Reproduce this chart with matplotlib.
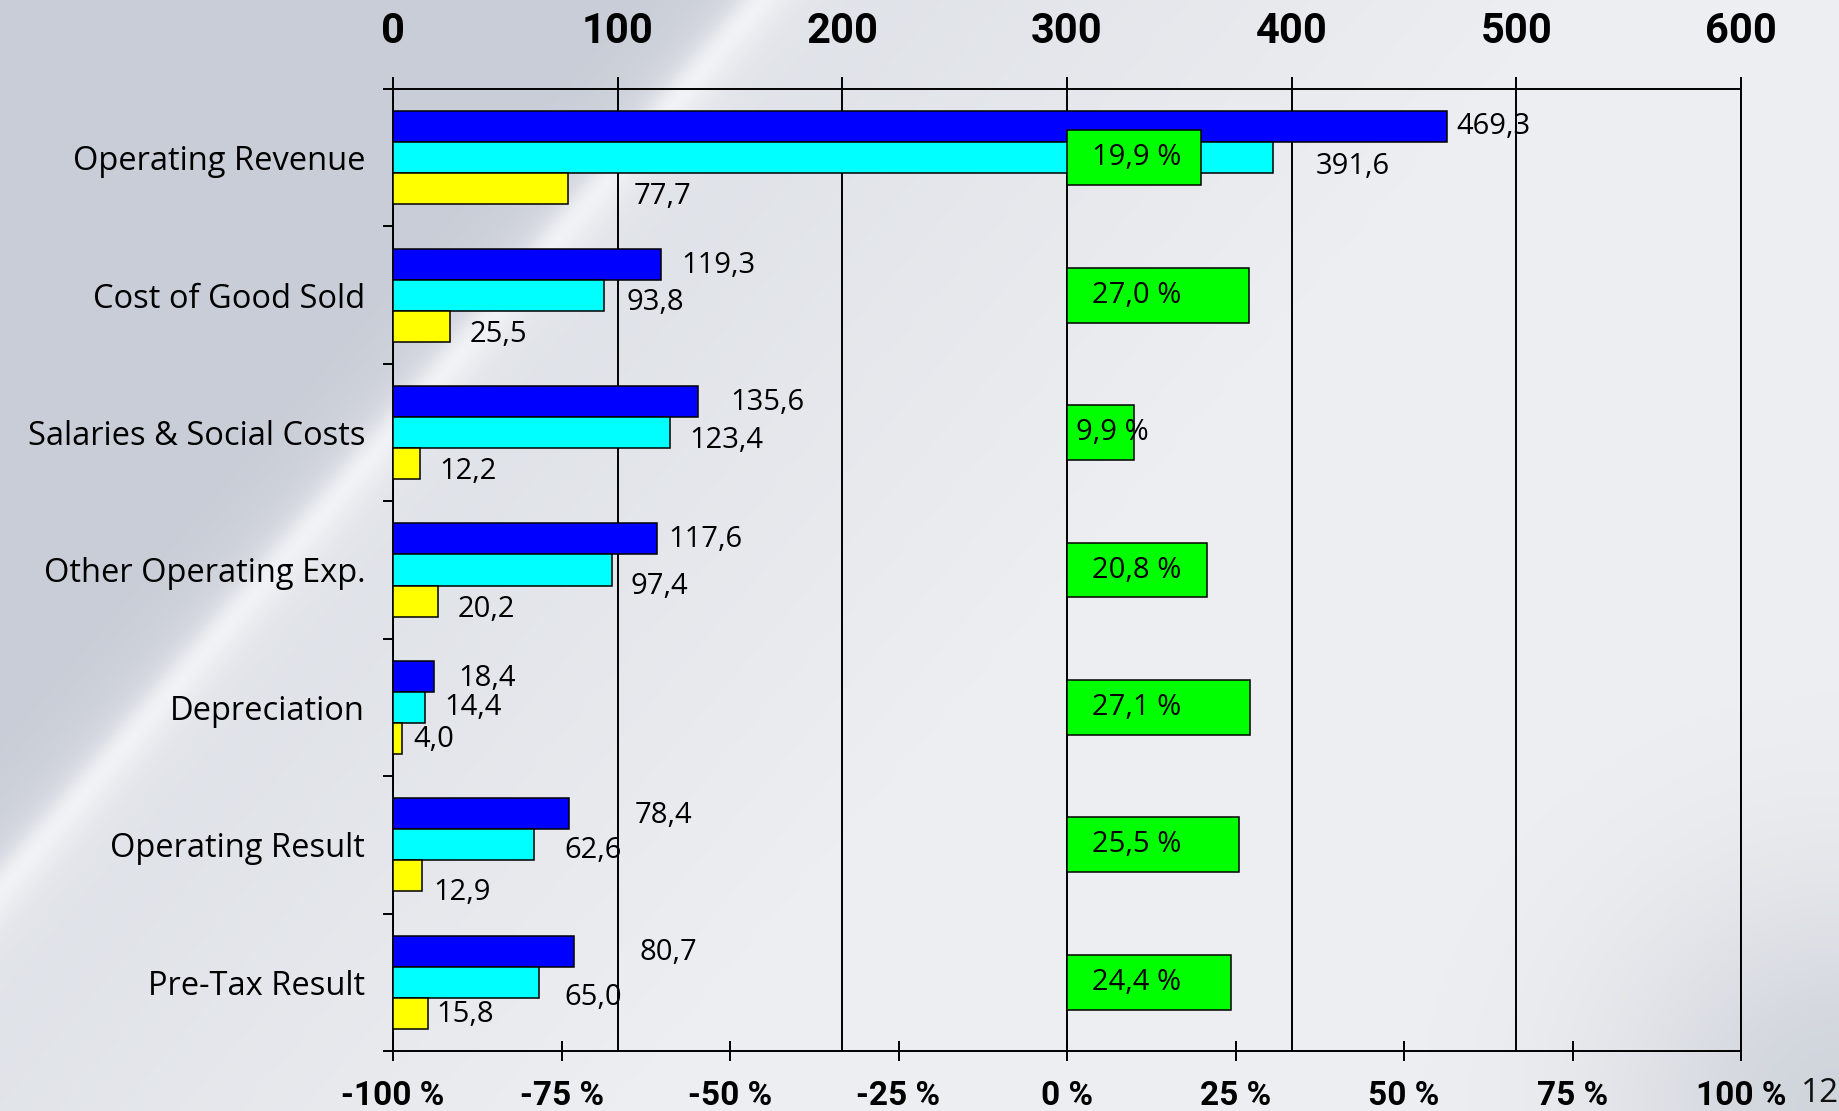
import numpy as np
import matplotlib
matplotlib.use("Agg")
import matplotlib.pyplot as plt
from matplotlib import font_manager
from matplotlib.ticker import FixedLocator

# P&L lines, current year vs previous year, absolute change and % change
categories = ["Operating Revenue", "Cost of Good Sold", "Salaries & Social Costs",
              "Other Operating Exp.", "Depreciation", "Operating Result", "Pre-Tax Result"]
current = [469.3, 119.3, 135.6, 117.6, 18.4, 78.4, 80.7]
previous = [391.6, 93.8, 123.4, 97.4, 14.4, 62.6, 65.0]
change = [77.7, 25.5, 12.2, 20.2, 4.0, 12.9, 15.8]
change_pct = [19.9, 27.0, 9.9, 20.8, 27.1, 25.5, 24.4]

value_ticks = [0, 100, 200, 300, 400, 500, 600]
pct_ticks = [-100, -75, -50, -25, 0, 25, 50, 75, 100]

# label nudges in pixels (dx right, dy down), one row per series
nudge_current = [(9, 0), (20, 1), (33, 1), (11, 1), (24, 2), (65, 2), (65, 1)]
nudge_previous = [(43, 9), (23, 7), (19, 8), (19, 16), (19, 0), (31, 6), (25, 15)]
nudge_change = [(66, 8), (19, 8), (19, 8), (19, 8), (11, 1), (11, 17), (8, 1)]
pct_dx = [25, 25, 9, 25, 25, 25, 25]


def pick_font(*names):
    for n in names:
        try:
            font_manager.findfont(n, fallback_to_default=False)
            return n
        except ValueError:
            pass
    return "DejaVu Sans"


TICK_FONT = pick_font("Liberation Sans Narrow", "Roboto", "DejaVu Sans")
TEXT_FONT = pick_font("Open Sans", "Noto Sans", "DejaVu Sans")
PAGE_FONT = pick_font("Open Sans", "DejaVu Sans")

W, H = 1839, 1111
fig = plt.figure(figsize=(W / 100, H / 100), dpi=100)

# backdrop: grey-blue slide with a light diagonal streak
bg = fig.add_axes([0, 0, 1, 1], zorder=-1)
yy, xx = np.mgrid[0:H, 0:W].astype(float)
perp = (xx - (762 - 0.855 * yy)) / 1.316
left_col = np.array([201, 205, 215]) / 255
near_col = np.array([222, 225, 231]) / 255
far_col = np.array([238, 239, 242]) / 255
t = np.clip(perp / 650, 0, 1)[..., None]
right = near_col * (1 - t) + far_col * t
side = np.clip(perp / 40 + 0.5, 0, 1)[..., None]
img = left_col * (1 - side) + right * side
band = np.clip(0.6 * np.exp(-(perp / 20) ** 2) + 0.25 * np.exp(-(perp / 60) ** 2), 0, 1)[..., None]
img = img + (np.array([246, 247, 249]) / 255 - img) * band
corner = (0.75 * np.exp(-(np.hypot(xx - W, yy - H) / 230) ** 2))[..., None]
img = img + (np.array([198, 203, 212]) / 255 - img) * corner
bg.imshow(img, aspect="auto", extent=(0, W, H, 0))
bg.set_axis_off()

ax = fig.add_axes([393 / W, 1 - 1051 / H, (1741 - 393) / W, (1051 - 89) / H])
ax.set_facecolor("none")

y = np.arange(len(categories))
h = 0.226
edge = dict(edgecolor="black", linewidth=1.1)
ax.barh(y - h, current, height=h, color="#0000ff", zorder=3, **edge)
ax.barh(y, previous, height=h, color="#00ffff", zorder=3, **edge)
ax.barh(y + h, change, height=h, color="#ffff00", zorder=3, **edge)

ax.set_xlim(0, 600)
ax.set_ylim(len(categories) - 0.5, -0.5)
ax.grid(axis="x", color="black", linewidth=1.4, zorder=1)
ax.set_axisbelow(True)

ax.set_yticks(y)
ax.set_yticklabels(categories, fontfamily=TEXT_FONT, fontsize=23.5)
ax.yaxis.set_minor_locator(FixedLocator(np.arange(-0.5, len(categories), 1.0)))
ax.tick_params(axis="y", which="major", length=0, pad=20)
ax.tick_params(axis="y", which="minor", direction="out", length=7.2, width=1.4)
for s in ax.spines.values():
    s.set_linewidth(1.4)
    s.set_color("black")


def fmt(v):
    return f"{v:.1f}".replace(".", ",")


for vals, off, nudges in ((current, -h, nudge_current),
                          (previous, 0, nudge_previous),
                          (change, h, nudge_change)):
    for i, v in enumerate(vals):
        dx, dy = nudges[i]
        ax.annotate(fmt(v), xy=(v, i + off), xytext=(dx, -dy), textcoords="offset pixels",
                    ha="left", va="center", fontsize=21, fontfamily=TEXT_FONT,
                    color="black", zorder=5)

# percentage change on its own scale
ax2 = ax.twiny()
ax2.set_xlim(-100, 100)
ax2.xaxis.tick_bottom()
ax2.set_xticks(pct_ticks)
ax2.set_xticklabels([f"{p} %" for p in pct_ticks], fontfamily=TICK_FONT,
                    fontweight="bold", fontsize=24)
ax2.tick_params(axis="x", direction="inout", length=14.4, width=1.4, pad=14)
for s in ax2.spines.values():
    s.set_visible(False)
ax2.barh(y, change_pct, height=0.4, left=0, color="#00ff00", zorder=3, **edge)
for i, p in enumerate(change_pct):
    ax2.annotate(fmt(p) + " %", xy=(0, i), xytext=(pct_dx[i], 0), textcoords="offset pixels",
                 ha="left", va="center", fontsize=21, fontfamily=TEXT_FONT,
                 color="black", zorder=5)

# value scale along the top (twiny moved it to the bottom, so set it here)
ax.xaxis.tick_top()
ax.set_xticks(value_ticks)
ax.set_xticklabels([str(v) for v in value_ticks], fontfamily=TICK_FONT,
                   fontweight="bold", fontsize=30)
ax.tick_params(axis="x", which="major", direction="out", length=8.6, width=1.4, pad=18)

fig.text(1801 / W, 1 - 1102 / H, "12", fontsize=24, fontfamily=PAGE_FONT,
         color="#111111", ha="left", va="baseline")

fig.savefig("out.png", dpi=100)
